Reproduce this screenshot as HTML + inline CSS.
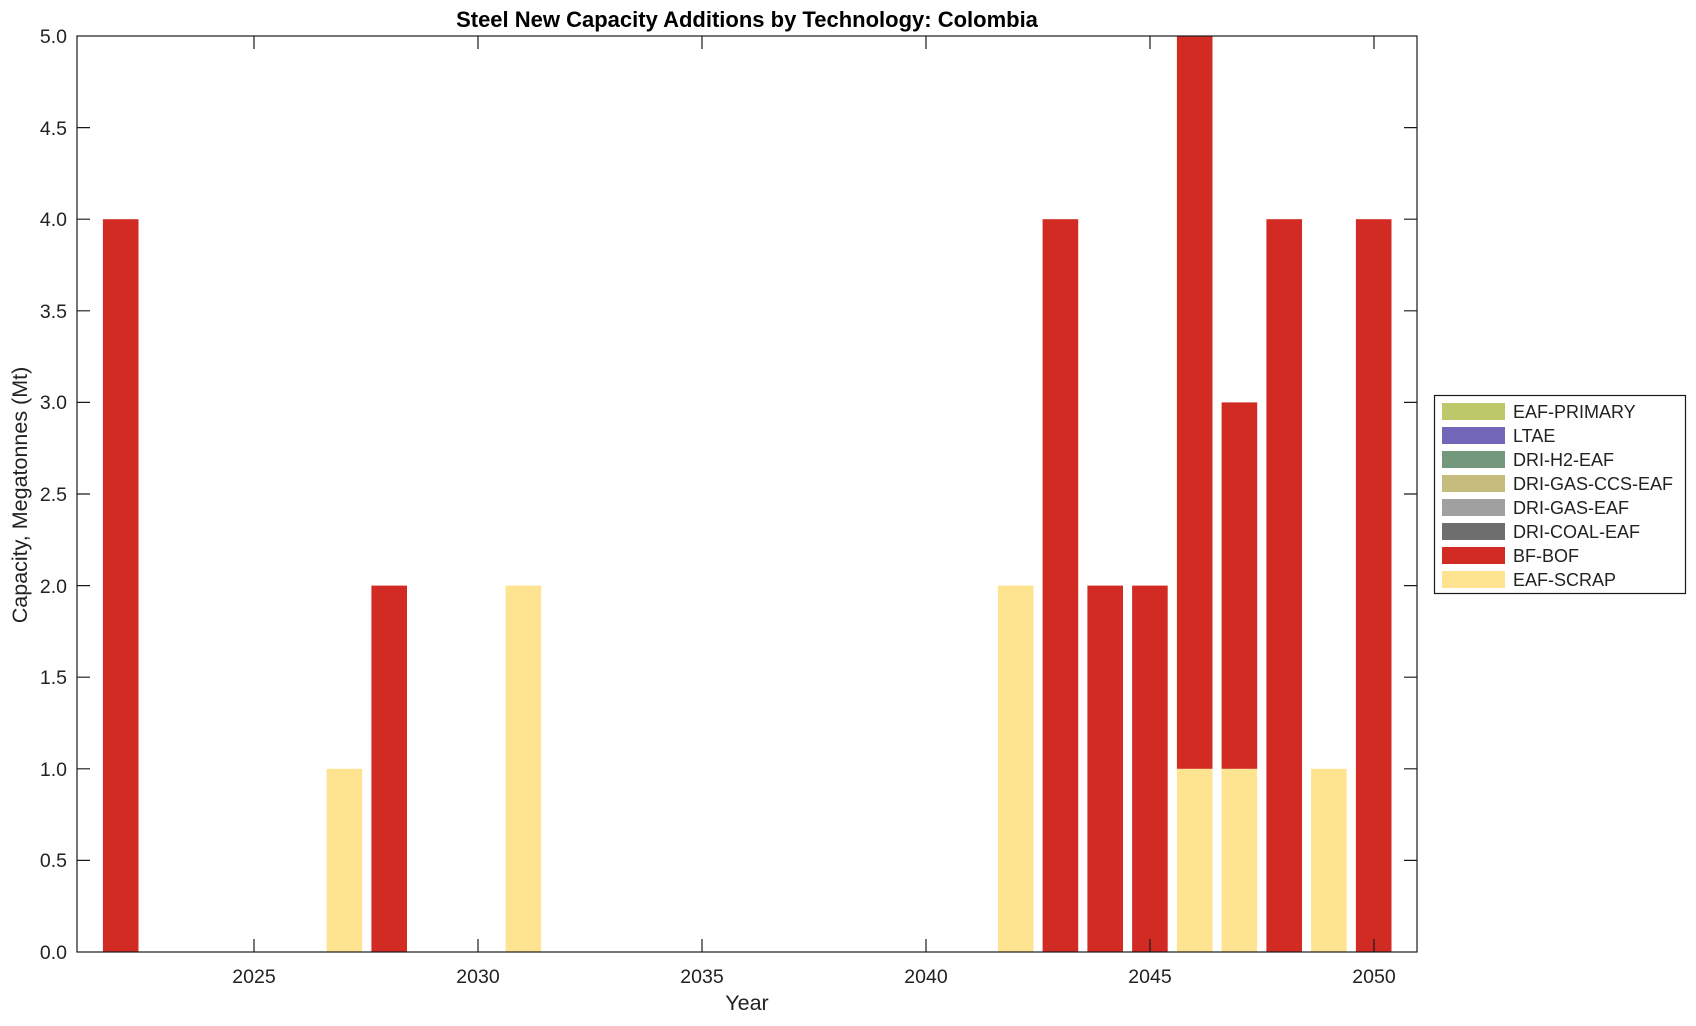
<!DOCTYPE html>
<html><head><meta charset="utf-8"><style>
html,body{margin:0;padding:0;background:#fff;}
text{font-family:"Liberation Sans",Arial,sans-serif;fill:#222;}
</style></head><body>
<svg width="1696" height="1021" viewBox="0 0 1696 1021" xmlns="http://www.w3.org/2000/svg">
<rect width="1696" height="1021" fill="#fff"/>
<g>
<rect x="102.9" y="219.2" width="35.6" height="732.8" fill="#d22b24"/>
<rect x="326.6" y="768.8" width="35.6" height="183.2" fill="#fee391"/>
<rect x="371.4" y="585.6" width="35.6" height="366.4" fill="#d22b24"/>
<rect x="505.6" y="585.6" width="35.6" height="366.4" fill="#fee391"/>
<rect x="997.9" y="585.6" width="35.6" height="366.4" fill="#fee391"/>
<rect x="1042.6" y="219.2" width="35.6" height="732.8" fill="#d22b24"/>
<rect x="1087.4" y="585.6" width="35.6" height="366.4" fill="#d22b24"/>
<rect x="1132.1" y="585.6" width="35.6" height="366.4" fill="#d22b24"/>
<rect x="1176.9" y="768.8" width="35.6" height="183.2" fill="#fee391"/>
<rect x="1176.9" y="36" width="35.6" height="732.8" fill="#d22b24"/>
<rect x="1221.6" y="768.8" width="35.6" height="183.2" fill="#fee391"/>
<rect x="1221.6" y="402.4" width="35.6" height="366.4" fill="#d22b24"/>
<rect x="1266.4" y="219.2" width="35.6" height="732.8" fill="#d22b24"/>
<rect x="1311.1" y="768.8" width="35.6" height="183.2" fill="#fee391"/>
<rect x="1355.9" y="219.2" width="35.6" height="732.8" fill="#d22b24"/>
</g>
<rect x="77" y="36" width="1340" height="916" fill="none" stroke="#1a1a1a" stroke-width="1.2"/>
<g stroke="#1a1a1a" stroke-width="1.2">
<path d="M77 860.4h13M77 768.8h13M77 677.2h13M77 585.6h13M77 494h13M77 402.4h13M77 310.8h13M77 219.2h13M77 127.6h13"/>
<path d="M1417 860.4h-13M1417 768.8h-13M1417 677.2h-13M1417 585.6h-13M1417 494h-13M1417 402.4h-13M1417 310.8h-13M1417 219.2h-13M1417 127.6h-13"/>
<path d="M254 952v-13M478 952v-13M702 952v-13M926 952v-13M1150 952v-13M1374 952v-13"/>
<path d="M254 36v13M478 36v13M702 36v13M926 36v13M1150 36v13M1374 36v13"/>
</g>
<g font-size="19.5" text-anchor="end">
<text x="67" y="959">0.0</text>
<text x="67" y="867">0.5</text>
<text x="67" y="776">1.0</text>
<text x="67" y="684">1.5</text>
<text x="67" y="593">2.0</text>
<text x="67" y="501">2.5</text>
<text x="67" y="409">3.0</text>
<text x="67" y="318">3.5</text>
<text x="67" y="226">4.0</text>
<text x="67" y="135">4.5</text>
<text x="67" y="43">5.0</text>
</g>
<g font-size="19.5" text-anchor="middle">
<text x="254" y="983">2025</text>
<text x="478" y="983">2030</text>
<text x="702" y="983">2035</text>
<text x="926" y="983">2040</text>
<text x="1150" y="983">2045</text>
<text x="1374" y="983">2050</text>
<text x="747" y="1010" font-size="21.5">Year</text>
</g>
<text transform="translate(27 495) rotate(-90)" font-size="21.5" text-anchor="middle">Capacity, Megatonnes (Mt)</text>
<text x="747" y="27" font-size="22" font-weight="bold" text-anchor="middle" style="fill:#000">Steel New Capacity Additions by Technology: Colombia</text>
<rect x="1434.5" y="395.5" width="251" height="198" fill="#fff" stroke="#1a1a1a" stroke-width="1.2"/>
<g>
<rect x="1442" y="403" width="63" height="17" fill="#bdc86b"/>
<rect x="1442" y="427" width="63" height="17" fill="#7266b8"/>
<rect x="1442" y="451" width="63" height="17" fill="#73987c"/>
<rect x="1442" y="475" width="63" height="17" fill="#c6bc7e"/>
<rect x="1442" y="499" width="63" height="17" fill="#a0a0a0"/>
<rect x="1442" y="523" width="63" height="17" fill="#6e6e6e"/>
<rect x="1442" y="547" width="63" height="17" fill="#d22b24"/>
<rect x="1442" y="571" width="63" height="17" fill="#fee391"/>
</g>
<g font-size="18" style="fill:#000">
<text x="1513" y="418">EAF-PRIMARY</text>
<text x="1513" y="442">LTAE</text>
<text x="1513" y="466">DRI-H2-EAF</text>
<text x="1513" y="490">DRI-GAS-CCS-EAF</text>
<text x="1513" y="514">DRI-GAS-EAF</text>
<text x="1513" y="538">DRI-COAL-EAF</text>
<text x="1513" y="562">BF-BOF</text>
<text x="1513" y="586">EAF-SCRAP</text>
</g>
</svg>
</body></html>
